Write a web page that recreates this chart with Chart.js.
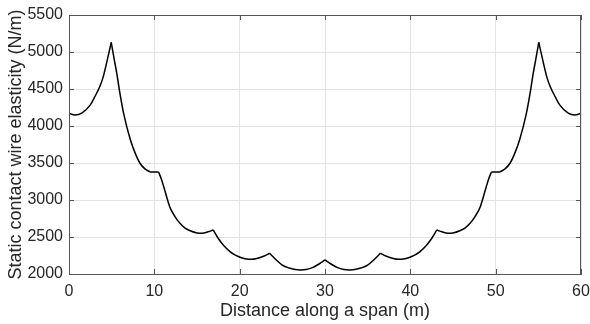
<!DOCTYPE html>
<html>
<head>
<meta charset="utf-8">
<script src="https://cdn.jsdelivr.net/npm/chart.js@4.4.1/dist/chart.umd.min.js"></script>
<style>
    html, body { margin: 0; padding: 0; background: #fff; }
    #wrap { width: 590px; height: 324px; }
</style>
</head>
<body>
<div id="wrap"><canvas id="chartElasticity"></canvas></div>
<script>
// distance along the span (m)
var distance = [
    0, 0.7, 1.5, 2.5, 3.0, 3.6, 4.0, 4.4, 4.95, 5.3, 5.6, 6.0, 6.4, 7.2, 7.8, 8.3, 8.9, 9.5,
    10.5, 10.8, 11.1, 11.8, 12.4, 13.0, 13.6, 14.2, 15.0, 15.6, 16.3, 16.9,
    17.5, 18.1, 18.9, 19.5, 20.2, 20.8, 21.4, 22.0, 22.8, 23.5,
    24.2, 25.0, 25.8, 26.5, 27.1, 27.8, 28.6, 29.3, 30.0,
    30.7, 31.4, 32.2, 32.9, 33.5, 34.2, 35.0, 35.8, 36.5,
    37.2, 38.0, 38.6, 39.2, 39.8, 40.5, 41.1, 41.9, 42.5, 43.1,
    43.7, 44.4, 45.0, 45.8, 46.4, 47.0, 47.6, 48.2, 48.9, 49.2, 49.5,
    50.5, 51.1, 51.7, 52.2, 52.8, 53.6, 54.0, 54.4, 54.7, 55.05,
    55.6, 56.0, 56.4, 57.0, 57.5, 58.5, 59.3, 60
];

// static contact wire elasticity (N/m)
var elasticity = [
    4172, 4150, 4175, 4285, 4390, 4530, 4660, 4850, 5130, 4900, 4710, 4420, 4170, 3810, 3620, 3500, 3420, 3380,
    3378, 3290, 3180, 2910, 2780, 2685, 2620, 2585, 2555, 2550, 2570, 2595,
    2480, 2390, 2300, 2255, 2220, 2203, 2199, 2210, 2240, 2280,
    2200, 2120, 2080, 2060, 2054, 2060, 2090, 2135, 2190,
    2135, 2090, 2060, 2054, 2060, 2080, 2120, 2200, 2280,
    2240, 2210, 2199, 2203, 2220, 2255, 2300, 2390, 2480, 2595,
    2570, 2550, 2555, 2585, 2620, 2685, 2780, 2910, 3180, 3290, 3378,
    3380, 3420, 3500, 3620, 3810, 4170, 4420, 4710, 4900, 5130,
    4850, 4660, 4530, 4390, 4285, 4175, 4150, 4172
];

// kinks of the curve (dropper points), where the line is not smooth
var kinks = [4.95, 9.5, 10.5, 16.9, 23.5, 30.0, 36.5, 43.1, 49.5, 50.5, 55.05];

var xTicks = [0, 10, 20, 30, 40, 50, 60];
var yTicks = [2000, 2500, 3000, 3500, 4000, 4500, 5000, 5500];

// one dataset per piece between kinks, so each piece is smooth and the kinks stay sharp
var pieces = [];
var cur = [];
distance.forEach(function(d, i){
    cur.push({x: d, y: elasticity[i]});
    if (kinks.indexOf(d) >= 0) {
        pieces.push(cur);
        cur = [{x: d, y: elasticity[i]}];
    }
});
pieces.push(cur);

var datasets = pieces.map(function(p){
    return {
        data: p,
        showLine: true,
        borderColor: '#000',
        borderWidth: 1.5,
        pointRadius: 0,
        cubicInterpolationMode: 'monotone',
        fill: false
    };
});

// box round the plot + inward ticks
var boxPlugin = {
    id: 'box',
    afterDraw: function(chart){
        var ctx = chart.ctx, a = chart.chartArea;
        var sx = chart.scales.x, sy = chart.scales.y;
        ctx.save();
        ctx.strokeStyle = '#555';
        ctx.lineWidth = 1;
        ctx.strokeRect(Math.round(a.left) + 0.5, Math.round(a.top) + 0.5,
            Math.round(a.right - a.left) - 1, Math.round(a.bottom - a.top));
        ctx.beginPath();
        xTicks.forEach(function(v){
            var px = Math.round(sx.getPixelForValue(v)) + 0.5;
            ctx.moveTo(px, a.bottom); ctx.lineTo(px, a.bottom - 5);
            ctx.moveTo(px, a.top); ctx.lineTo(px, a.top + 5);
        });
        yTicks.forEach(function(v){
            var py = Math.round(sy.getPixelForValue(v)) + 0.5;
            ctx.moveTo(a.left, py); ctx.lineTo(a.left + 5, py);
            ctx.moveTo(a.right, py); ctx.lineTo(a.right - 5, py);
        });
        ctx.stroke();
        ctx.restore();
    }
};

var ctx = document.getElementById("chartElasticity").getContext("2d");
var chart = new Chart(ctx, {
    type: 'scatter',
    data: { datasets: datasets },
    options: {
        responsive: true,
        maintainAspectRatio: false,
        animation: false,
        devicePixelRatio: 1,
        layout: { padding: { top: 15, right: 9, left: 0, bottom: 0 } },
        plugins: { legend: { display: false }, tooltip: { enabled: false } },
        scales: {
            x: {
                type: 'linear',
                min: 0, max: 60,
                afterFit: function(s){ s.height = 50; s.paddingLeft = 0; s.paddingRight = 0; },
                afterBuildTicks: function(s){ s.ticks = xTicks.map(function(v){ return {value: v}; }); },
                grid: { color: '#e3e3e3', drawTicks: false },
                border: { color: '#555', width: 1 },
                ticks: {
                    padding: 8, color: '#262626',
                    font: { family: 'Liberation Sans', size: 16 },
                    callback: function(v){ return String(v); }
                },
                title: {
                    display: true,
                    text: 'Distance along a span (m)',
                    color: '#262626',
                    font: { family: 'Liberation Sans', size: 18 },
                    padding: { top: 0, bottom: 2 }
                }
            },
            y: {
                type: 'linear',
                min: 2000, max: 5500,
                afterFit: function(s){ s.width = 69; s.paddingTop = 0; s.paddingBottom = 0; },
                afterBuildTicks: function(s){ s.ticks = yTicks.map(function(v){ return {value: v}; }); },
                grid: { color: '#e3e3e3', drawTicks: false },
                border: { color: '#555', width: 1 },
                ticks: {
                    padding: 6, color: '#262626',
                    font: { family: 'Liberation Sans', size: 16 },
                    callback: function(v){ return String(v); }
                },
                title: {
                    display: true,
                    text: 'Static contact wire elasticity (N/m)',
                    color: '#262626',
                    font: { family: 'Liberation Sans', size: 18 },
                    padding: { top: 5, bottom: 0 }
                }
            }
        }
    },
    plugins: [boxPlugin]
});
</script>
</body>
</html>
